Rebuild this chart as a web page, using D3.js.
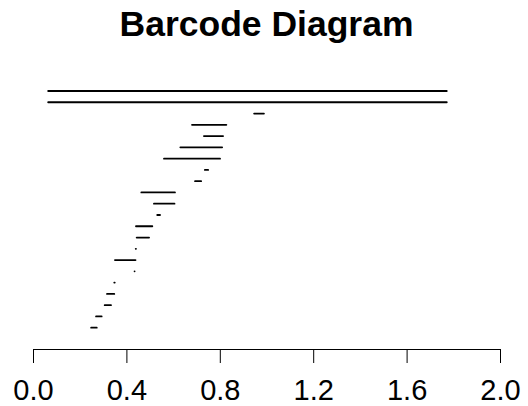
<!DOCTYPE html>
<html>
<head>
<meta charset="utf-8">
<script src="https://cdn.jsdelivr.net/npm/d3@7"></script>
<style>
body { margin:0; background:#fff; }
svg { display:block; font-family:"Liberation Sans", Arial, Helvetica, sans-serif; }
.bar { stroke:#000; stroke-width:1.8; stroke-linecap:round; }
.xaxis path, .xaxis line { stroke:#000; stroke-width:1; }
</style>
</head>
<body>
<script>
// bars, top to bottom (birth / death)
var births=[0.065,0.065,0.947,0.681,0.732,0.631,0.561,0.736,0.694,0.464,0.518,0.532,0.441,0.444,0.440,0.351,0.435,0.348,0.317,0.307,0.270,0.249];
var deaths=[1.772,1.772,0.989,0.828,0.814,0.810,0.801,0.750,0.720,0.608,0.606,0.544,0.511,0.497,0.441,0.439,0.435,0.350,0.348,0.334,0.294,0.273];
var tickValues=[0,0.4,0.8,1.2,1.6,2.0];
var title="Barcode Diagram";

var width=528, height=406;
var bars=births.map(function(b,i) {return {birth:b, death:deaths[i], row:i}});

var svg=d3.select("body").append("svg").attr("width",width).attr("height",height);

var x=d3.scaleLinear().domain([0,2]).range([33,500]);
var y=d3.scalePoint().domain(d3.range(bars.length)).range([91,327.7]);

svg.append("text").
	attr("x",266.5).attr("y",36).
	attr("text-anchor","middle").
	style("font-size","35.5px").style("font-weight","bold").
	text(title);

svg.selectAll(".bar").data(bars).enter().
	append("line").
	attr("x1",function(d) {return x(d.birth)}).
	attr("x2",function(d) {return x(d.death)}).
	attr("y1",function(d) {return y(d.row)}).
	attr("y2",function(d) {return y(d.row)}).
	classed("bar",true);

var axis=d3.axisBottom(x).tickValues(tickValues).tickSize(14).tickSizeOuter(0).tickFormat(d3.format(".1f"));
var g=svg.append("g").attr("class","xaxis").attr("transform","translate(0,349)").call(axis);
g.selectAll("text").attr("y",51).attr("dy",0).style("font-size","29px").style("font-family","'Liberation Sans', Arial, sans-serif").attr("fill","#000");
</script>
</body>
</html>
